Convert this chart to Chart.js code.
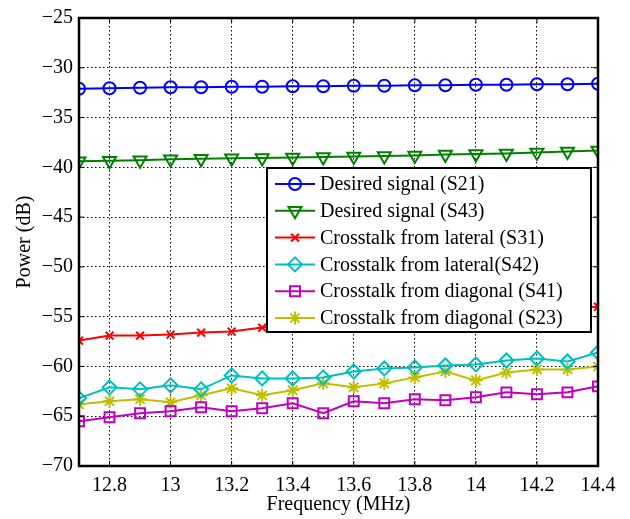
<!DOCTYPE html>
<html lang="en">
<head>
  <meta charset="UTF-8">
  <title>Power vs Frequency</title>
  <script src="https://cdn.jsdelivr.net/npm/chart.js"></script>
  <style>
    body {
      margin: 0;
      background: white;
    }
    .chart-box {
      width: 630px;
      height: 519px;
    }
  </style>
</head>
<body>
  <div class="chart-box">
    <canvas id="powerChart" width="630" height="519"></canvas>
  </div>
  <script>
    const freqs = [12.7, 12.8, 12.9, 13.0, 13.1, 13.2, 13.3, 13.4, 13.5, 13.6, 13.7, 13.8, 13.9, 14.0, 14.1, 14.2, 14.3, 14.4];
    const xTicks = [12.8, 13, 13.2, 13.4, 13.6, 13.8, 14, 14.2, 14.4];
    const yTicks = [-70, -65, -60, -55, -50, -45, -40, -35, -30, -25];

    const s21 = [-32.1, -32.05, -32.0, -31.95, -31.95, -31.9, -31.9, -31.85, -31.85, -31.8, -31.8, -31.75, -31.75, -31.7, -31.7, -31.65, -31.65, -31.6];
    const s43 = [-39.4, -39.35, -39.3, -39.2, -39.15, -39.1, -39.05, -39.0, -38.95, -38.9, -38.85, -38.8, -38.7, -38.65, -38.6, -38.5, -38.4, -38.3];
    const s31 = [-57.4, -56.9, -56.9, -56.8, -56.6, -56.5, -56.1, -55.9, -55.7, -55.5, -55.4, -55.2, -55.0, -54.8, -54.6, -54.4, -54.2, -54.0];
    const s42 = [-63.2, -62.1, -62.3, -61.9, -62.3, -60.9, -61.2, -61.2, -61.1, -60.5, -60.2, -60.1, -59.9, -59.8, -59.4, -59.2, -59.5, -58.6];
    const s41 = [-65.5, -65.1, -64.7, -64.5, -64.1, -64.5, -64.2, -63.7, -64.7, -63.5, -63.7, -63.3, -63.4, -63.1, -62.6, -62.8, -62.6, -62.0];
    const s23 = [-63.8, -63.5, -63.3, -63.6, -62.9, -62.2, -62.9, -62.4, -61.7, -62.1, -61.7, -61.1, -60.5, -61.4, -60.6, -60.3, -60.3, -60.0];

    const serif = '"Liberation Serif", "Times New Roman", serif';

    function series(label, values, color, style, radius, rotation) {
      return {
        label: label,
        data: freqs.map((f, i) => ({ x: f, y: values[i] })),
        borderColor: color,
        backgroundColor: 'transparent',
        borderWidth: 2,
        pointStyle: style,
        pointRadius: radius,
        pointRotation: rotation || 0,
        pointBorderWidth: 2,
        pointBorderColor: color,
        pointBackgroundColor: 'transparent',
        tension: 0
      };
    }

    // box around the plot, inward ticks, and the boxed legend (MATLAB style)
    const frameAndLegend = {
      id: 'frameAndLegend',
      afterDraw(chart) {
        const ctx = chart.ctx;
        const a = chart.chartArea;
        const xs = chart.scales.x, ys = chart.scales.y;
        ctx.save();
        ctx.strokeStyle = '#000';
        ctx.lineWidth = 1;
        ctx.setLineDash([]);
        xTicks.forEach(v => {
          const px = xs.getPixelForValue(v);
          ctx.beginPath();
          ctx.moveTo(px, a.bottom); ctx.lineTo(px, a.bottom - 5);
          ctx.moveTo(px, a.top); ctx.lineTo(px, a.top + 5);
          ctx.stroke();
        });
        yTicks.forEach(v => {
          const py = ys.getPixelForValue(v);
          ctx.beginPath();
          ctx.moveTo(a.left, py); ctx.lineTo(a.left + 5, py);
          ctx.moveTo(a.right, py); ctx.lineTo(a.right - 5, py);
          ctx.stroke();
        });
        ctx.lineWidth = 2.5;
        ctx.strokeRect(a.left, a.top, a.right - a.left, a.bottom - a.top);

        // legend
        const bx = 267, by = 168, bw = 324, bh = 164;
        ctx.fillStyle = '#fff';
        ctx.fillRect(bx, by, bw, bh);
        ctx.lineWidth = 2;
        ctx.strokeStyle = '#000';
        ctx.strokeRect(bx, by, bw, bh);
        ctx.font = '20px ' + serif;
        ctx.textBaseline = 'middle';
        chart.data.datasets.forEach((ds, i) => {
          const rowY = by + 16 + i * 26.8;
          ctx.strokeStyle = ds.borderColor;
          ctx.fillStyle = 'rgba(0,0,0,0)';
          ctx.lineWidth = 2;
          ctx.beginPath();
          ctx.moveTo(bx + 8, rowY);
          ctx.lineTo(bx + 48, rowY);
          ctx.stroke();
          Chart.helpers.drawPoint(ctx, {
            pointStyle: ds.pointStyle,
            radius: ds.pointRadius,
            rotation: ds.pointRotation,
            borderWidth: 2
          }, bx + 28, rowY);
          ctx.fillStyle = '#000';
          ctx.fillText(ds.label, bx + 53, rowY + 1);
        });
        ctx.restore();
      }
    };

    new Chart(document.getElementById('powerChart').getContext('2d'), {
      type: 'line',
      data: {
        datasets: [
          series('Desired signal (S21)', s21, '#0000ff', 'circle', 6),
          series('Desired signal (S43)', s43, '#008000', 'triangle', 7.5, 180),
          series('Crosstalk from lateral (S31)', s31, '#ff0000', 'crossRot', 5.5),
          series('Crosstalk from lateral(S42)', s42, '#00bfbf', 'rectRot', 7),
          series('Crosstalk from diagonal (S41)', s41, '#bf00bf', 'rect', 7),
          series('Crosstalk from diagonal (S23)', s23, '#bfbf00', 'star', 6.5)
        ]
      },
      options: {
        responsive: false,
        animation: false,
        layout: { padding: { top: 16, right: 32, bottom: 0, left: 0 } },
        plugins: {
          legend: { display: false },
          tooltip: { enabled: false }
        },
        scales: {
          x: {
            type: 'linear',
            min: 12.7,
            max: 14.4,
            afterBuildTicks: s => { s.ticks = xTicks.map(v => ({ value: v })); },
            afterFit: s => { s.height = 53; },
            grid: { color: '#000', lineWidth: 1, drawTicks: false },
            border: { display: false, dash: [1.5, 2.5] },
            ticks: {
              color: '#000',
              padding: 8,
              maxRotation: 0,
              font: { family: serif, size: 20 },
              callback: v => String(Math.round(v * 10) / 10)
            },
            title: {
              display: true,
              text: 'Frequency (MHz)',
              color: '#000',
              font: { family: serif, size: 20 },
              padding: { top: 0, bottom: 2 }
            }
          },
          y: {
            min: -70,
            max: -25,
            afterBuildTicks: s => { s.ticks = yTicks.map(v => ({ value: v })); },
            afterFit: s => { s.width = 79; },
            grid: { color: '#000', lineWidth: 1, drawTicks: false },
            border: { display: false, dash: [1.5, 2.5] },
            ticks: {
              color: '#000',
              padding: 6,
              font: { family: serif, size: 20 },
              callback: v => '\u2212' + Math.abs(v)
            },
            title: {
              display: true,
              text: 'Power (dB)',
              color: '#000',
              font: { family: serif, size: 20 },
              padding: { top: 13, bottom: 0 }
            }
          }
        }
      },
      plugins: [frameAndLegend]
    });
  </script>
</body>
</html>
